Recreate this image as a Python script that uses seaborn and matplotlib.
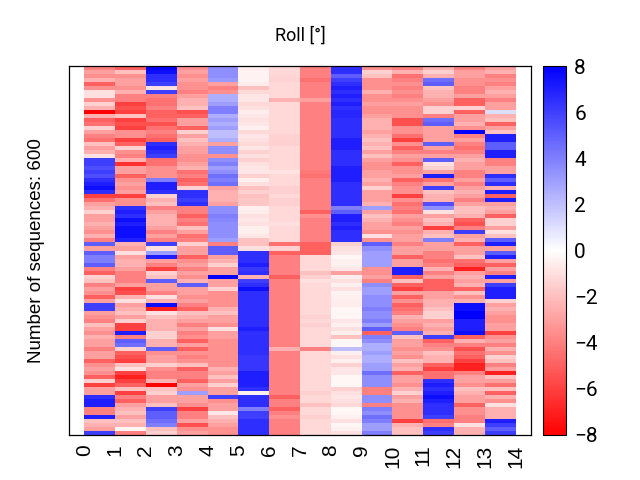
import numpy as np
import pandas as pd
import matplotlib
matplotlib.use("Agg")
import matplotlib.pyplot as plt
import seaborn as sns

# Roll values per sequence band, one list per time step
step_0 = [-4, -3, -3.5, -2.5, -5, -3.5, -1, -1, -3.5, -1.5, -2.5, -8, -2.5, -5, -4.5, -1.5, -3, -4, -4.5, -2, -3, -2.5, -1, 6, 6, 5.5, 6, 5.5, 6.5, 7, 7.5, 6.5, -6, -4.5, -3, -2.5, -1.5, -3, -3, -2.5, -3, -3.5, -2.5, -4, 5, -3,
          5, 4, 4, 5, -4, -5, -1.5, -2, -4, -3, -3.5, -5, -3, 6, 6, -3, -3.5, -4, -2, -3, -3.5, -2.5, -3, -3, -4, -3, -3, -5, -3.5, -3, -3.5, -5, -1.5, -6, -3, -3, 6.5, 7, 7, -4, -4, 7, -2, -2.5, -3, 6]
step_1 = [-5, -2, -3.5, -3, -3, -3.5, -2.5, -4, -4, -6, -5.5, -6, -2, -6, -5.5, -6, -3.5, -3.5, -6, -5, -1.5, -3.5, -4, -2.5, -6.5, -3, -3, -5, -3.5, -3, -3.5, -3, -6, -3.5, -3.5, 6.5, 7, 6.5, 7.5, 7, 7.5, 7.5, 7.5, 7, -2.5, -3,
          -1, -3, -2.5, -2.5, -3, -4, -4, -4, -3, -6, -5.5, -2.5, -1, -3, -2.5, -2, -3, -1.5, -6, -6, 7, -4, 5, 4.5, -1.5, -5, -5.5, -6, -2, -1, -6, -7, -6, -5, -2, -6, -4, -5, -3, -2.5, -2, -3, -2, -2.5, -0.3, -4]
step_2 = [8, 7.5, 6.5, 6.5, 6, -1, 6, -4, -4.5, -4.5, -4, -5, -5, -4.5, -5.5, -4.5, -4, -4.5, -5, 6.5, 7, 6.5, 6, -4.5, -4.5, -3.5, -3.5, -3.5, 4, 7, 7, 6.5, -1.5, -2.5, -2, -4, -3, -2.5, -2.5, -2.5, -3, -4, -3, -4, 6, -1,
          3, 7, -3, -4, -6, -1.5, -2, 5, -3, -3, -4, -1, -2.5, 7.5, -7, -1, -2, -2.5, -2.5, -2.5, -1.5, -1.5, -2.5, -2.5, 5, -3.5, -3, -3, -1.5, -3.5, -4, -4, -2.5, -8, -2, -1.5, -3, -3, -2, 6, 5, 5, 4.5, 4, -2, -1.5]
step_3 = [-3.5, -3, -3.5, -3, -3.5, -3.5, -4, -3, -2.5, -2.5, -2, -5.5, -5, -3, -3, -5, -1.5, -3, -2, -2.5, -3, -3, -3.5, -3.5, -3, -2.5, -4.5, -4, -5, -4.5, -1.5, 6.5, 6.5, 6, 6.5, -4, -4, -5, -4, -4.5, -2, -3, -4.5, -4, -1.5, -3,
          -3, -5, -3.5, -3, -4, -3, -3.5, -2.5, 5, -3, -3, -3.5, -3, -4, -5, -2, -2.5, -3, -4, -3, -4, -3.5, -5, -3, -5, -3.5, -4, -3.5, -2, -5, -4, -4, -5, -3, -3.5, 3, -3, -3, -3.5, -6, -4, -4, -3, -5.5, -3.5, -3]
step_4 = [3.5, 3.5, 3.5, 3.2, -3, -4, -3.5, 2.5, 2.5, 3, 4, 4, 2.5, 3, 2.5, 3, 2, 2, 2.5, -3, 3.5, 3.5, -3.5, 3.5, 4, 3, 3.5, 4.5, 4, 4.5, -3, -2.5, -2.5, -2.5, -3, 3.5, 3.5, 4, 3.8, 3.5, 3.5, 3.5, 3.5, 3, -4, 5,
          5, -3, -2.5, -1.5, -3, -3, 8, -3, -3, -1.5, -3.5, -3.5, -3.5, -3.5, -2.5, -2, -3, -3, -3.5, -1, -3, -3, -3.5, -3.5, -3.5, -3.5, -3.5, -3.5, -3.5, -2.5, -3, -2, -3, -1.5, -3, -3, 6, -3.5, -3, -3, -0.8, -2, -2.5, -3, -3.5, -3.5]
step_5 = [-0.6, -0.4, -0.4, -0.4, -0.6, -2, -1.2, -0.8, -0.8, -1.2, -1, -0.6, -0.8, -1, -0.8, -0.5, -1.2, -0.8, -1, -1.2, -0.8, -1.5, -1, -1.5, -1, -0.8, -0.8, -1.5, -0.5, -1, -2, -1.5, -2, -1.8, -1.8, -0.5, -0.6, -1, -0.8, -1, -0.5, -0.5, -0.8, -2, -2, -1,
          6.5, 6.5, 6.5, 7, 6.2, 6.5, -2.5, 6, 6.5, 7.5, 6.5, 6.5, 6.5, 6.5, 6.5, 6.5, 6.5, 6.5, 6.5, 7, 6.5, 6.5, 6.5, 6.5, 6.5, 6.5, 6.3, 6.3, 6.3, 6.3, 7, 7, 7, 7, 6.5, -0.5, 6.5, 6.5, 6.5, 4, 6, 6, 6.5, 6.5, 6.5, 6.5]
step_6 = [-1.2, -1.2, -1.3, -1.4, -1.2, -1.2, -1.2, -1.2, -2.5, -1.2, -1.2, -1.2, -1.2, -1.2, -1.2, -1.2, -1.2, -1.4, -1.4, -1.5, -1.2, -1.2, -1.2, -1.2, -1.2, -1.2, -0.9, -1.2, -1.2, -1.2, -1.5, -1.5, -1.2, -1.5, -1.5, -1.2, -1.2, -1.2, -1.2, -1, -1.2, -1.2, -1.2, -1.2, -4.5, -1.5,
          -5, -4, -4, -4, -4, -4, -5, -4, -4, -4, -4, -4, -4, -4, -4, -4, -4, -4, -4, -4, -4, -4, -4, -4, -2.5, -4, -4, -4, -4, -4, -4, -4, -4, -4, -4, -4, -5, -4, -4, -5, -4, -3.5, -4, -4, -4, -4]
step_7 = [-4, -4, -4, -4.5, -4, -4, -4, -4, -3, -4, -4, -4, -4, -4, -4, -4, -4, -4, -4, -4, -4, -4, -4, -4, -4, -4, -4.2, -4.5, -4, -4, -4, -4, -4, -4, -4, -4, -5, -3.5, -4, -4, -4, -4, -4, -4, -5, -5,
          -5, -1.2, -1.2, -1.2, -1.2, -2, -1.5, -1, -1.2, -1.2, -1.2, -1.2, -1.2, -1.2, -1.2, -1.2, -1.4, -1.2, -1.5, -1.2, -1.2, -1.2, -1.2, -1.2, -4, -1.2, -1.2, -1.2, -1.2, -1.2, -1.2, -1.2, -1.2, -1.2, -1.2, -1.5, -1.2, -1.2, -2, -1.2, -1.2, -1.5, -1.2, -1.2, -1.2, -1.2]
step_8 = [6.5, 6.5, 5, 6, 6.5, 7, 6.5, 7, 6.5, 7, 6.5, 6.8, 6.8, 6.5, 6.5, 6.5, 6.5, 6.5, 7, 7, 7, 6.5, 6.5, 6.5, 6.5, 7, 7, 7, 7, 6.5, 6.5, 6.5, 6.5, 6.5, 6.5, 4, 5, 7, 7, 6.5, 7, 6.5, 6.5, 6.5, -1.5, -1,
          -0.8, -0.3, -0.5, -0.5, -0.8, -3, -0.6, -1, -0.5, -1, -0.4, -0.5, -0.6, -0.6, -0.3, -0.3, -0.3, -0.8, -0.5, -1, -0.5, -2, -0.3, -0.3, 2, -0.5, -1, -0.5, -1.5, -0.8, -0.8, -0.3, -0.3, -0.3, -1.5, -1, -0.8, -1, -1.2, -0.3, -0.3, -0.5, -1, -0.3, -0.5, -1]
step_9 = [-3.5, -1.5, -2, -3.5, -3.5, -3.5, -2.5, -3.5, -3.5, -3, -3.5, -3.5, -3, -2.5, -2.5, -2.5, -3, -2.5, -2, -2.5, -2, -3, -2, -3, -3.5, -3.5, -3, -3, -2.5, -3, -1.5, -3, -3, -3, -2.5, 3, -3, -2, -2.5, -3, -3, -3.5, -1, -3.5, 5, 3.5,
          3, 3, 3, 3, -3.5, -3.5, -3, -4, 3.5, 3, 3, 3.5, 3.5, 3.5, 4, 3.5, 3.5, 4, 3, 5, -5, 4, 3.5, 2.5, 2.5, 3, 2.5, 2.5, 3, 3, 4.5, 3.5, 3.5, 3.5, -4, -4, 3.5, 3.5, -4, 4, 3.5, 4.5, 4, 3, 3, 4]
step_10 = [-4, -2.5, -4.5, -4, -3.5, -4, -3.5, -4, -3.5, -3, -3.5, -3.5, -3.5, -5.5, -5.5, -3.5, -3.5, -4.5, -6, -3.5, -5, -4, -3, -3.5, -5, -3.5, -3.5, -3, -5, -4, -3.5, -3.5, -6, -3.5, -4.5, -4, -4.5, -3, -3.5, -4, -3, -3.5, -3, -3, -4, -3,
          -3, -5, -3, -3, 7, 7, -5, -2, -5, -6, -3, -5, -3.5, -5, -4.5, -4, -2.5, -3, -3.5, -4, 5, -2, -3, -3, -3.5, -3, -3.5, -2, -3, -2.5, -5, -3, -3, -3.5, -2.5, -1.5, -3, -2.5, -3.5, -3.5, -3.5, -3.5, -6, -2.5, -2, -2]
step_11 = [-2.5, -1.5, -2.5, 4.5, 5, -2, -2.5, -2.5, -3, -3.5, -1.5, -1.5, -4, 4.5, 5, -3, -3, -3, -3, 5, -3, -4, -3, 5, -1, -1.5, -3, 7, -4.5, -3, 6, -2, -2.5, -2.5, 5.5, 3.5, -1, -3, -2, -2.5, -6, -2.5, -2, 4, -3, -3,
          -4, -4, -4.5, -4, -2.5, -4, -3, -5, -5, -5, -3, -3, -2.5, -2.5, -2, -1.5, -1.5, -3, -2.5, -3, -2.5, 6, -5, -4, -3.5, -2, -2.5, -2.5, -5, -6, -4.5, -4.5, 6.5, 7, 6.5, 7, 7.5, 7, 6.5, 6.5, 6.5, 6, -4.5, -4, 6.5, 6]
step_12 = [-4, -3, -3, -3.5, -3.5, -4, -4, -3, -5, -5, -1.5, -5, -3, -3, -2.5, -3.5, 8, -4, -3, -4, -4.5, -4, -3, -2.5, -3, -3, -4, -4, -3, -4, -3, -2.5, -3, -4, -3, -2, -2, -2.5, -5, -5.5, -4, 6, -3, -2.5, -5, -3,
          -3, -2, -4.5, -5, -7, -3, -2.5, -3, -2.5, -5, -2, -3.5, -2.5, 7.5, 7.5, 8, 8, 7, 7, 7, 7.5, -5, -2.5, -4, -5.5, -4.5, -5, -6, -7, -7, -4, -3, -3, -3.5, -2, -2.5, -3, -3, -5, -3.5, -3.5, -4, -4, -1, -2.5, -2.5]
step_13 = [-3, -2.5, -4, -3.5, -4, -3, -2.5, -3, -4, -3, -3, 1, -2.5, -2, -5, -3, -2, 7, 7, 5, 5, 7, 7, -4, -4, -3, -3, 6.5, 5, 6.5, -2.5, 7, -5, 7, -3, -2.5, -3, -5, -1.5, -1.5, -3, -1, -2, 5, 7, -3,
           5, 7, -3, -5, -3, -4, 7, -3, 6, 7, 7, 7, -1.5, -3, -2.5, -3, -3.5, -3.5, -3, -3, -6, -3.5, -3, -4, -2.5, -3.5, -1.5, -2, -4, -3, -7, -2, -3, -4.5, -2, -5, -2.5, -3.5, -1, -2.5, -2.5, -2.5, 7, 6, 5, 6]

tick_labels = [str(i) for i in range(15)]
cbar_ticks = list(range(-8, 9, 2))

roll = pd.DataFrame({
    0: step_0, 1: step_1, 2: step_2, 3: step_3, 4: step_4, 5: step_5, 6: step_6,
    7: step_7, 8: step_8, 9: step_9, 10: step_10, 11: step_11, 12: step_12, 13: step_13,
})

sns.set_style("white")
plt.rcParams["font.family"] = ["Liberation Sans", "DejaVu Sans"]
plt.rcParams["text.color"] = "black"
plt.rcParams["axes.labelcolor"] = "black"
plt.rcParams["xtick.color"] = "black"
plt.rcParams["ytick.color"] = "black"

fig = plt.figure(figsize=(6.4, 4.8), dpi=100)
ax = fig.add_axes([69 / 640, 1 - 435 / 480, 462 / 640, 369 / 480])
cax = fig.add_axes([543 / 640, 1 - 435 / 480, 23 / 640, 369 / 480])

sns.heatmap(roll, ax=ax, cbar_ax=cax, cmap="bwr_r", vmin=-8, vmax=8,
            xticklabels=False, yticklabels=False, cbar_kws={"ticks": cbar_ticks})

# labels sit on the cell edges, with half a step of margin each side
ax.set_xlim(-0.5, 14.5)
ax.set_xticks(range(15))
ax.set_xticklabels(tick_labels, rotation=90, fontsize=15)
ax.tick_params(axis="x", length=0, pad=7, bottom=False)
ax.set_xlabel("")
ax.set_ylabel("Number of sequences: 600", fontsize=13.5, labelpad=17)
ax.set_title("Roll [°]", fontsize=13, pad=18, family=["Roboto", "DejaVu Sans"])
for spine in ax.spines.values():
    spine.set_visible(True)
    spine.set_color("black")
    spine.set_linewidth(0.9)

cb = ax.collections[0].colorbar
cb.outline.set_visible(True)
cb.outline.set_edgecolor("black")
cb.outline.set_linewidth(0.8)
cb.ax.tick_params(labelsize=15, length=0, pad=6)
for label in cb.ax.get_yticklabels():
    label.set_family(["Roboto", "DejaVu Sans"])

fig.savefig("out.png", dpi=100)
